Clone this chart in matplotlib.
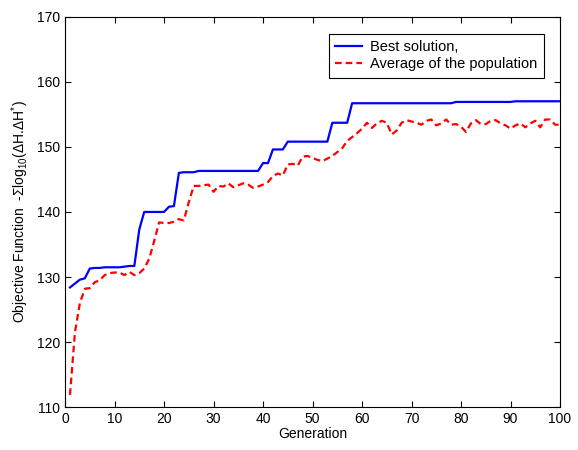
import matplotlib
matplotlib.use("Agg")
import matplotlib.pyplot as plt
import numpy as np

plt.rcParams["font.family"] = "Liberation Sans"
plt.rcParams["font.size"] = 10
plt.rcParams["mathtext.fontset"] = "custom"
plt.rcParams["mathtext.rm"] = "Liberation Sans"
plt.rcParams["mathtext.it"] = "Liberation Sans:italic"

generations = np.arange(1, 101)

best_solution = [
    128.4, 129.0, 129.6, 129.8, 131.3, 131.4, 131.4, 131.5, 131.5, 131.5,
    131.5, 131.6, 131.7, 131.7, 137.3, 140.0, 140.0, 140.0, 140.0, 140.0,
    140.8, 140.9, 146.0, 146.1, 146.1, 146.1, 146.3, 146.3, 146.3, 146.3,
    146.3, 146.3, 146.3, 146.3, 146.3, 146.3, 146.3, 146.3, 146.3, 147.5,
    147.5, 149.6, 149.6, 149.6, 150.8, 150.8, 150.8, 150.8, 150.8, 150.8,
    150.8, 150.8, 150.8, 153.7, 153.7, 153.7, 153.7, 156.7, 156.7, 156.7,
    156.7, 156.7, 156.7, 156.7, 156.7, 156.7, 156.7, 156.7, 156.7, 156.7,
    156.7, 156.7, 156.7, 156.7, 156.7, 156.7, 156.7, 156.7, 156.9, 156.9,
    156.9, 156.9, 156.9, 156.9, 156.9, 156.9, 156.9, 156.9, 156.9, 156.9,
    157.0, 157.0, 157.0, 157.0, 157.0, 157.0, 157.0, 157.0, 157.0, 157.0,
]

population_average = [
    111.9, 121.5, 126.0, 128.2, 128.3, 129.2, 129.5, 130.3, 130.6, 130.7,
    130.7, 130.3, 130.8, 130.3, 130.6, 131.3, 132.8, 135.5, 138.4, 138.3,
    138.3, 138.5, 138.9, 138.7, 141.5, 144.0, 144.0, 144.1, 144.2, 143.1,
    144.0, 143.9, 144.4, 143.8, 144.1, 144.4, 144.2, 143.7, 143.9, 144.2,
    144.6, 145.5, 145.9, 145.6, 147.3, 147.4, 147.1, 148.5, 148.6, 148.3,
    148.0, 147.8, 148.2, 148.6, 149.2, 149.8, 150.9, 151.5, 152.1, 152.8,
    153.7, 152.9, 153.6, 154.0, 153.7, 151.9, 152.5, 153.7, 154.1, 153.9,
    153.7, 153.4, 154.0, 154.2, 153.3, 153.6, 154.2, 153.4, 153.5, 153.1,
    152.3, 153.6, 154.1, 153.5, 153.5, 154.0, 154.1, 153.6, 153.3, 152.8,
    153.3, 153.6, 153.0, 153.6, 154.0, 153.0, 154.2, 154.2, 153.4, 153.4,
]

fig = plt.figure(figsize=(5.78, 4.5), dpi=100)
ax = fig.add_axes([0.1125, 0.095, 0.8564, 0.868])

ax.plot(generations, best_solution, color="#0000ff", linewidth=1.6,
        label="Best solution,")
ax.plot(generations, population_average, color="#ff0000", linewidth=1.6,
        linestyle=(0, (3, 1.8)), label="Average of the population")

ax.set_xlim(0, 100)
ax.set_ylim(110, 170)
ax.set_xticks(np.arange(0, 101, 10))
ax.set_yticks(np.arange(110, 171, 10))
ax.tick_params(direction="in", top=True, right=True, length=4, width=0.8)
for spine in ax.spines.values():
    spine.set_linewidth(0.8)

ax.set_xlabel("Generation", labelpad=1)
ax.set_ylabel(r"Objective Function  -Σlog$_{10}$(ΔH.ΔH$^{*}$)", labelpad=4)

leg = ax.legend(loc="upper right", bbox_to_anchor=(0.968, 0.956),
                borderaxespad=0, fancybox=False, edgecolor="black",
                framealpha=1, fontsize=10.5, handlelength=1.8,
                borderpad=0.45, labelspacing=0.2, handletextpad=0.6)
leg.get_frame().set_linewidth(0.8)

fig.savefig("out.png", dpi=100)
